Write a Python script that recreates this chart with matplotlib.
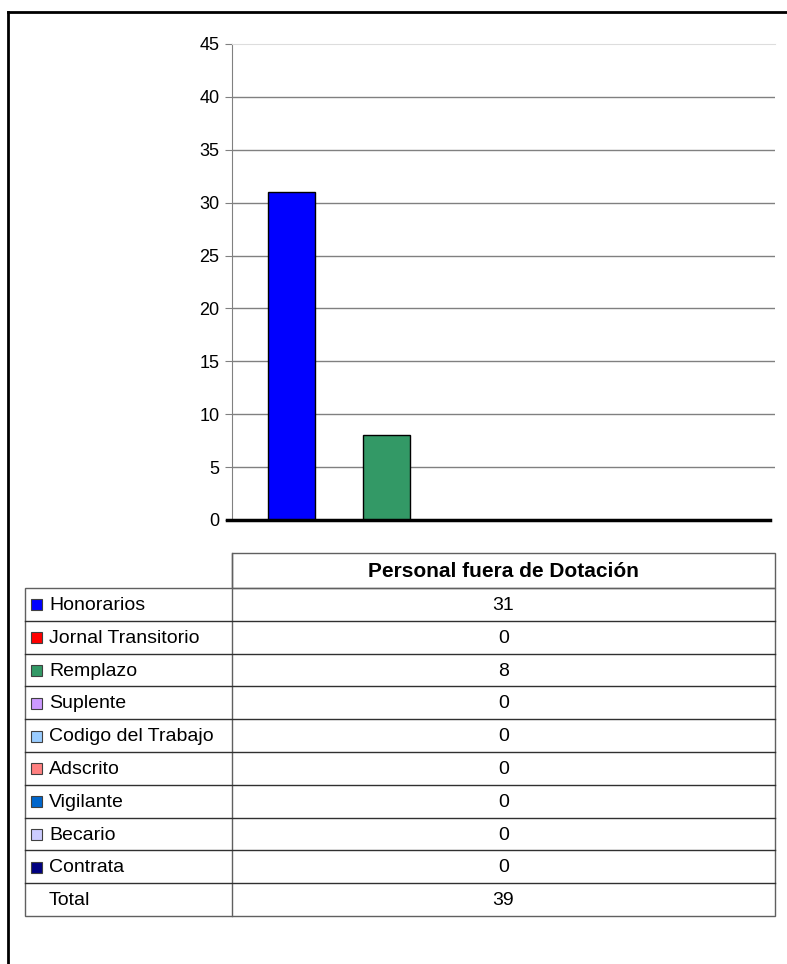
import numpy as np
import matplotlib.pyplot as plt
from matplotlib.patches import Rectangle

plt.rcParams['font.family'] = ['Liberation Sans', 'DejaVu Sans']

categories = ["Honorarios", "Jornal Transitorio", "Remplazo", "Suplente",
              "Codigo del Trabajo", "Adscrito", "Vigilante", "Becario", "Contrata"]
values = [31, 0, 8, 0, 0, 0, 0, 0, 0]
colors = ["#0000FF", "#FF0000", "#339966", "#CC99FF", "#99CCFF",
          "#FF8080", "#0066CC", "#CCCCFF", "#000080"]
header = "Personal fuera de Dotación"
yticks = [0, 5, 10, 15, 20, 25, 30, 35, 40, 45]

W, H = 787, 964
fig = plt.figure(figsize=(W / 100, H / 100), dpi=100)

# background axes in pixel coordinates for frame + table
bg = fig.add_axes([0, 0, 1, 1])
bg.set_xlim(0, W)
bg.set_ylim(H, 0)
bg.axis("off")

# outer frame (right and bottom are cut off)
bg.plot([8, 8], [12, H], color="black", lw=2)
bg.plot([8, W], [12, 12], color="black", lw=2)

# chart axes
x0, x1, ytop, ybot = 232, 775, 44, 520
ax = fig.add_axes([x0 / W, 1 - ybot / H, (x1 - x0) / W, (ybot - ytop) / H])
pitch = 47.5
xpos = np.arange(len(values))
left_off = (268 - x0) / pitch
ax.set_xlim(-0.5 - left_off, -0.5 - left_off + (x1 - x0) / pitch)
ax.set_ylim(0, 45)
for y in yticks[1:-1]:
    ax.axhline(y, color="#808080", lw=1, zorder=0)
ax.bar(xpos, values, width=0.99, color=colors, edgecolor="black", lw=1, zorder=2)
ax.axhline(0, xmin=-5 / (x1 - x0), xmax=(770 - x0) / (x1 - x0),
           color="black", lw=2.5, clip_on=False, zorder=3)
for s in ["right", "bottom"]:
    ax.spines[s].set_visible(False)
ax.spines["top"].set_color("#dddddd")
ax.spines["left"].set_color("#808080")
ax.set_xticks([])
ax.set_yticks(yticks)
ax.tick_params(axis="y", length=5, color="#808080", labelsize=13, pad=4)

# table
row_h = 32.8
hdr_top, tbl_top = 553, 588
tleft, tmid, tright = 25, 232, 775
line_c = "#606060"
bg.add_patch(Rectangle((tmid, hdr_top), tright - tmid, tbl_top - hdr_top,
                       fill=False, ec=line_c, lw=1))
nrows = len(categories) + 1
tbl_bot = tbl_top + nrows * row_h
bg.add_patch(Rectangle((tleft, tbl_top), tright - tleft, tbl_bot - tbl_top,
                       fill=False, ec=line_c, lw=1))
bg.plot([tmid, tmid], [hdr_top, tbl_bot], color=line_c, lw=1)
for i in range(1, nrows):
    y = tbl_top + i * row_h
    bg.plot([tleft, tright], [y, y], color="#303030", lw=1)
cx = (tmid + tright) / 2
bg.text(cx, (hdr_top + tbl_top) / 2 + 1, header, ha="center", va="center",
        fontsize=15, fontweight="bold")
for i, (cat, val, col) in enumerate(zip(categories, values, colors)):
    yc = tbl_top + (i + 0.5) * row_h
    bg.add_patch(Rectangle((31, yc - 5), 11, 11, fc=col, ec="#404040", lw=0.8))
    bg.text(49, yc + 1, cat, ha="left", va="center", fontsize=14)
    bg.text(cx, yc + 1, str(val), ha="center", va="center", fontsize=14)
yc = tbl_top + (nrows - 0.5) * row_h
bg.text(49, yc + 1, "Total", ha="left", va="center", fontsize=14)
bg.text(cx, yc + 1, str(sum(values)), ha="center", va="center", fontsize=14)

fig.savefig("out.png", dpi=100)
